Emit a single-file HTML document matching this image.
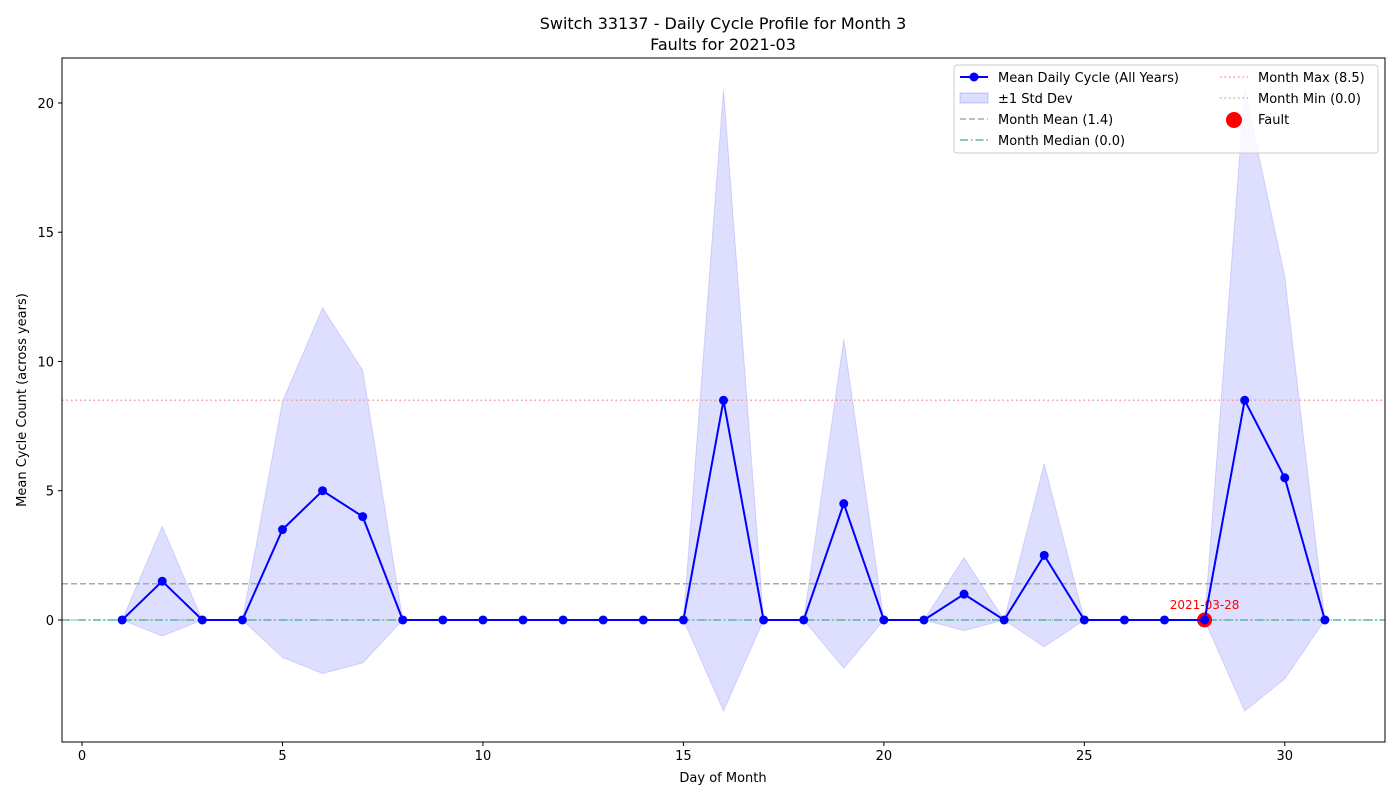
<!DOCTYPE html>
<html><head><meta charset="utf-8"><style>
body{margin:0;background:#fff;font-family:"DejaVu Sans","Liberation Sans",sans-serif;}
svg text{font-family:"DejaVu Sans","Liberation Sans",sans-serif;}
</style></head><body>
<svg id="chart" width="1400" height="800" xmlns="http://www.w3.org/2000/svg"></svg>
<script>
const days=[1,2,3,4,5,6,7,8,9,10,11,12,13,14,15,16,17,18,19,20,21,22,23,24,25,26,27,28,29,30,31];
const means=[0,1.5,0,0,3.5,5,4,0,0,0,0,0,0,0,0,8.5,0,0,4.5,0,0,1,0,2.5,0,0,0,0,8.5,5.5,0];
const stds=[0,2.12,0,0,4.95,7.07,5.66,0,0,0,0,0,0,0,0,12.02,0,0,6.36,0,0,1.41,0,3.54,0,0,0,0,12.02,7.78,0];
const xTicks=[0,5,10,15,20,25,30];
const yTicks=[0,5,10,15,20];
const monthMean=1.4, monthMedian=0.0, monthMax=8.5, monthMin=0.0;
const faultDay=28, faultValue=0, faultLabel="2021-03-28";

const L=62,R=1385,T=58,B=742;
const xMin=-0.5,xMax=32.5,yMin=-4.72,yMax=21.74;
const X=v=>L+(v-xMin)/(xMax-xMin)*(R-L);
const Y=v=>B-(v-yMin)/(yMax-yMin)*(B-T);
const svg=document.getElementById('chart');
const NS="http://www.w3.org/2000/svg";
function mk(tag,attrs,parent){const e=document.createElementNS(NS,tag);for(const k in attrs)e.setAttribute(k,attrs[k]);(parent||svg).appendChild(e);return e;}
function txt(s,attrs){const e=mk('text',attrs);e.textContent=s;return e;}

let e;
e=txt("Switch 33137 - Daily Cycle Profile for Month 3",{x:723,y:29,'text-anchor':'middle','font-size':16});


e=txt("Faults for 2021-03",{x:723,y:50,'text-anchor':'middle','font-size':16});



let up=days.map((d,i)=>X(d)+','+Y(means[i]+stds[i]));
let lo=days.map((d,i)=>X(d)+','+Y(means[i]-stds[i])).reverse();
e=mk('polygon',{points:up.concat(lo).join(' '),fill:'rgba(0,0,255,0.13)',stroke:'rgba(0,0,255,0.13)'});



function hline(v,color,dash,name){const l=mk('line',{x1:L,x2:R,y1:Y(v),y2:Y(v),stroke:color,'stroke-width':1.5,'stroke-dasharray':dash});

}
hline(monthMean,'#aaaaaa','6 3','month-mean-line');
hline(monthMax,'#f49a9a','1.5 3','month-max-line');
hline(monthMin,'#8fcf8f','1.5 3','month-min-line');
hline(monthMedian,'#5fb3b3','8 3 1.5 3','month-median-line');

e=mk('circle',{cx:X(faultDay),cy:Y(faultValue),r:7.5,fill:'#ff0000'});


e=txt(faultLabel,{x:X(faultDay),y:Y(faultValue)-11,'text-anchor':'middle','font-size':12,fill:'#ff0000'});



e=mk('polyline',{points:days.map((d,i)=>X(d)+','+Y(means[i])).join(' '),fill:'none',stroke:'#0000ff','stroke-width':2});


days.forEach((d,i)=>{const c=mk('circle',{cx:X(d),cy:Y(means[i]),r:4.5,fill:'#0000ff'});

});

e=mk('rect',{x:L,y:T,width:R-L,height:B-T,fill:'none',stroke:'#000','stroke-width':1});



xTicks.forEach(t=>{mk('line',{x1:X(t),x2:X(t),y1:B,y2:B+4,stroke:'#000'});
const s=txt(String(t),{x:X(t),y:B+18,'text-anchor':'middle','font-size':13});

});
yTicks.forEach(t=>{mk('line',{x1:L-4,x2:L,y1:Y(t),y2:Y(t),stroke:'#000'});
const s=txt(String(t),{x:L-8,y:Y(t)+5,'text-anchor':'end','font-size':13});

});
e=txt("Day of Month",{x:723,y:782,'text-anchor':'middle','font-size':13});


e=txt("Mean Cycle Count (across years)",{x:26,y:400,'text-anchor':'middle','font-size':13,transform:'rotate(-90 26 400)'});



const g=mk('g',{});


mk('rect',{x:954,y:65,width:424,height:88,rx:3,fill:'rgba(255,255,255,0.8)',stroke:'#ccc'},g);
function ltxt(s,x,y){const t=mk('text',{x:x,y:y,'font-size':13},g);t.textContent=s;

}
mk('line',{x1:960,x2:988,y1:77,y2:77,stroke:'#0000ff','stroke-width':2},g);
mk('circle',{cx:974,cy:77,r:4.5,fill:'#0000ff'},g);
ltxt("Mean Daily Cycle (All Years)",998,82);
mk('rect',{x:960,y:93,width:28,height:10,fill:'rgba(0,0,255,0.13)',stroke:'rgba(0,0,255,0.2)'},g);
ltxt("±1 Std Dev",998,103);
mk('line',{x1:960,x2:988,y1:119,y2:119,stroke:'#aaa','stroke-width':1.5,'stroke-dasharray':'6 3'},g);
ltxt("Month Mean (1.4)",998,124);
mk('line',{x1:960,x2:988,y1:140,y2:140,stroke:'#5fb3b3','stroke-width':1.5,'stroke-dasharray':'8 3 1.5 3'},g);
ltxt("Month Median (0.0)",998,145);
mk('line',{x1:1220,x2:1248,y1:77,y2:77,stroke:'#f49a9a','stroke-width':1.5,'stroke-dasharray':'1.5 3'},g);
ltxt("Month Max (8.5)",1258,82);
mk('line',{x1:1220,x2:1248,y1:98,y2:98,stroke:'#8fcf8f','stroke-width':1.5,'stroke-dasharray':'1.5 3'},g);
ltxt("Month Min (0.0)",1258,103);
mk('circle',{cx:1234,cy:120,r:8,fill:'#ff0000'},g);
ltxt("Fault",1258,124);
</script>
</body></html>
